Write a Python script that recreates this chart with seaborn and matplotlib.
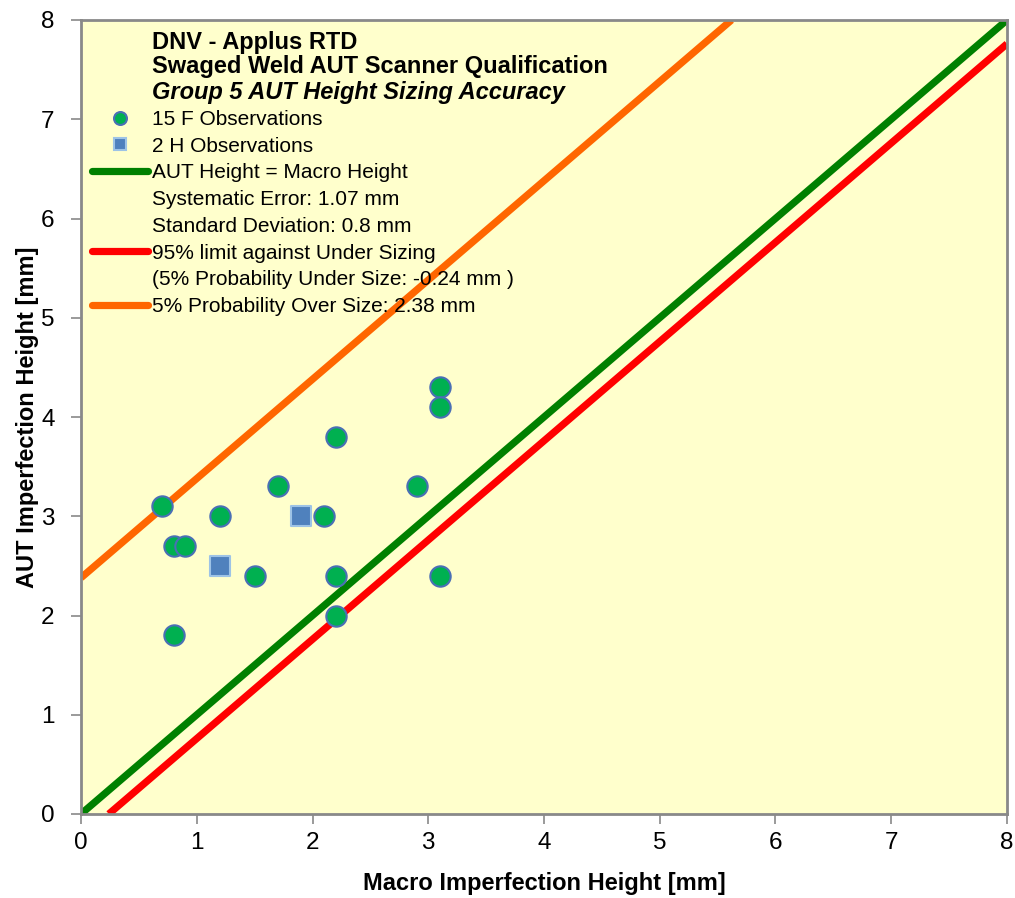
import matplotlib
matplotlib.use("Agg")
import matplotlib.pyplot as plt
from matplotlib.lines import Line2D
import seaborn as sns
import pandas as pd
import numpy as np

# Data
f_macro = [0.7, 0.8, 0.9, 0.8, 1.2, 1.5, 1.7, 2.1, 2.2, 2.2, 2.2, 2.9, 3.1, 3.1, 3.1]
f_aut   = [3.1, 2.7, 2.7, 1.8, 3.0, 2.4, 3.3, 3.0, 3.8, 2.4, 2.0, 3.3, 4.3, 4.1, 2.4]
h_macro = [1.2, 1.9]
h_aut   = [2.5, 3.0]
systematic_error = 1.07
std_dev = 0.8
under_offset = -0.24
over_offset = 2.38
axis_range = [0, 8]
ticks = [0, 1, 2, 3, 4, 5, 6, 7, 8]

title_lines = ["DNV - Applus RTD",
               "Swaged Weld AUT Scanner Qualification",
               "Group 5 AUT Height Sizing Accuracy"]
legend_labels = ["15 F Observations", "2 H Observations",
                 "AUT Height = Macro Height",
                 f"Systematic Error: {systematic_error} mm",
                 f"Standard Deviation: {std_dev} mm",
                 "95% limit against Under Sizing",
                 f"(5% Probability Under Size: {under_offset} mm )",
                 f"5% Probability Over Size: {over_offset} mm"]

sns.set_style("white", {"axes.facecolor": "#FFFFCC", "axes.edgecolor": "#898989",
                        "text.color": "black", "axes.labelcolor": "black",
                        "xtick.color": "black", "ytick.color": "black"})
plt.rcParams['font.family'] = ['Liberation Sans', 'DejaVu Sans']

W, H = 1015, 898
fig = plt.figure(figsize=(W / 100, H / 100), dpi=100)
ax = fig.add_axes([81/W, 84/H, 926/W, 794/H])

GREEN = "#008000"
RED = "#FF0000"
ORANGE = "#FF6600"
LW = 5.2

xs = np.array(axis_range, dtype=float)
eq = pd.DataFrame({"x": xs, "y": xs})
sns.lineplot(data=eq, x="x", y="y", color=GREEN, lw=LW, ax=ax, solid_capstyle='butt')
under_x = np.array([-under_offset, axis_range[1]])
sns.lineplot(x=under_x, y=under_x + under_offset, color=RED, lw=LW, ax=ax, solid_capstyle='butt')
over_x = np.array([axis_range[0], axis_range[1] - over_offset])
sns.lineplot(x=over_x, y=over_x + over_offset, color=ORANGE, lw=LW, ax=ax, solid_capstyle='butt')

fdf = pd.DataFrame({"macro": f_macro, "aut": f_aut})
hdf = pd.DataFrame({"macro": h_macro, "aut": h_aut})
sns.scatterplot(data=fdf, x="macro", y="aut", marker="o", s=215, color="#00B050",
                edgecolor="#4A6FB5", linewidth=1.5, ax=ax, zorder=5)
sns.scatterplot(data=hdf, x="macro", y="aut", marker="s", s=205, color="#4F81BD",
                edgecolor="#9DC3E6", linewidth=1.5, ax=ax, zorder=5)

ax.set_xlim(axis_range)
ax.set_ylim(axis_range)
ax.set_xticks(ticks)
ax.set_yticks(ticks)
ax.tick_params(axis='both', direction='out', length=7, width=1.2, color="#898989",
               labelsize=17.5, bottom=True, left=True)
ax.tick_params(axis='x', pad=6)
ax.tick_params(axis='y', pad=12)
for sp in ax.spines.values():
    sp.set_linewidth(2)
    sp.set_color("#898989")
ax.set_xlabel("Macro Imperfection Height [mm]", fontsize=17, fontweight='bold', labelpad=13)
ax.set_ylabel("AUT Imperfection Height [mm]", fontsize=17, fontweight='bold', labelpad=1.5)

# Title block inside plot area
title_y = [42, 66, 92]
for i, (txt, yy) in enumerate(zip(title_lines, title_y)):
    fig.text(152 / W, 1 - yy / H, txt, fontsize=17, fontweight='bold',
             fontstyle='italic' if i == 2 else 'normal', va='center', ha='left', zorder=4)

none = Line2D([], [], color='none')
handles = [Line2D([], [], ls='none', marker='o', ms=9.3, mfc="#00B050", mec="#4A6FB5", mew=1.5),
           Line2D([], [], ls='none', marker='s', ms=8.5, mfc="#4F81BD", mec="#9DC3E6", mew=1.5),
           Line2D([], [], color=GREEN, lw=LW, solid_capstyle='round'),
           none, none,
           Line2D([], [], color=RED, lw=LW, solid_capstyle='round'),
           none,
           Line2D([], [], color=ORANGE, lw=LW, solid_capstyle='round')]
leg = ax.legend(handles, legend_labels, loc='upper left',
                bbox_to_anchor=(92/W, (H - 110)/H), bbox_transform=fig.transFigure,
                frameon=False, fontsize=15, handlelength=2.7, handletextpad=0.2,
                labelspacing=0.37, borderpad=0, borderaxespad=0)
leg.set_zorder(3)

fig.savefig("out.png", dpi=100)
